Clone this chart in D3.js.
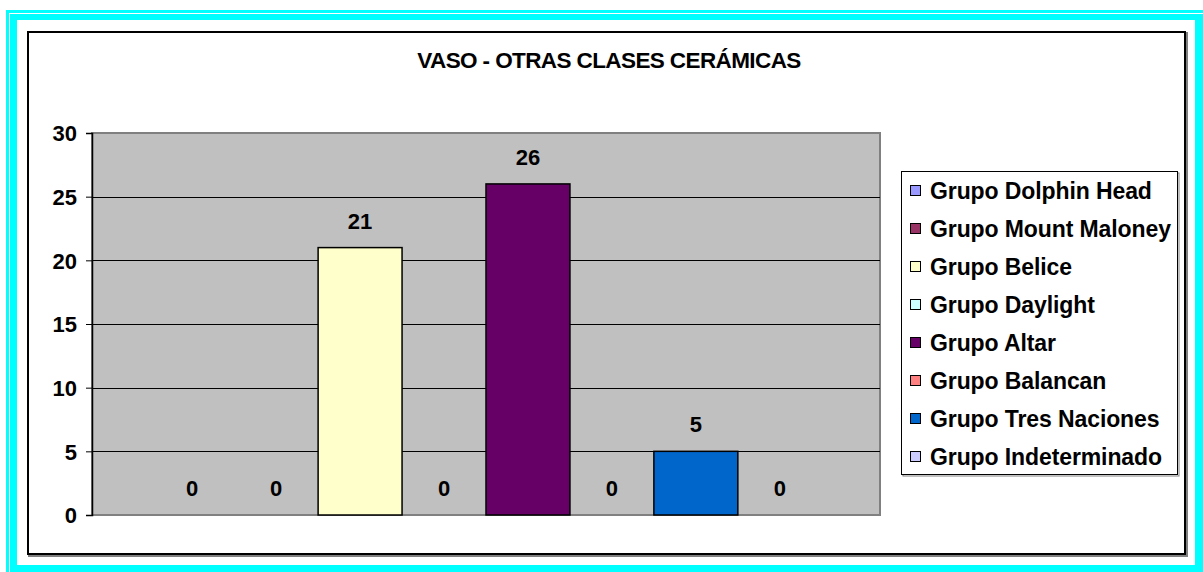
<!DOCTYPE html>
<html>
<head>
<meta charset="utf-8">
<script src="https://cdn.jsdelivr.net/npm/d3@7"></script>
<style>
  body { margin: 0; background: #fff; }
  text { font-family: "Liberation Sans", Arial, sans-serif; font-weight: bold; fill: #000; }
</style>
</head>
<body>
<svg id="chart"></svg>
<script>
// data
const title = "VASO - OTRAS CLASES CERÁMICAS";
const category = ["Vaso"];
const series = ["Grupo Dolphin Head", "Grupo Mount Maloney", "Grupo Belice", "Grupo Daylight",
                "Grupo Altar", "Grupo Balancan", "Grupo Tres Naciones", "Grupo Indeterminado"];
const values = [0, 0, 21, 0, 26, 0, 5, 0];
const colors = ["#9999FF", "#993366", "#FFFFCC", "#CCFFFF", "#660066", "#FF8080", "#0066CC", "#CCCCFF"];
const yTicks = [0, 5, 10, 15, 20, 25, 30];

const W = 1203, H = 572;
const plot = {left: 92, right: 880, top: 133, bottom: 515};

const svg = d3.select("#chart").attr("width", W).attr("height", H);

// cyan frame
svg.append("rect").attr("x", 6).attr("y", 10).attr("width", 1220).attr("height", 600).attr("fill", "#00FFFF");
svg.append("rect").attr("x", 9.5).attr("y", 13.5).attr("width", 1220).attr("height", 600)
    .attr("fill", "none").attr("stroke", "#fff").attr("stroke-width", 1);
svg.append("rect").attr("x", 17).attr("y", 20).attr("width", 1178).attr("height", 545).attr("fill", "#fff");

// chart area box with shadow
svg.append("rect").attr("x", 29).attr("y", 33).attr("width", 1158).attr("height", 523)
    .attr("fill", "none").attr("stroke", "#808080").attr("stroke-width", 2);
svg.append("rect").attr("x", 28).attr("y", 32).attr("width", 1157).attr("height", 522)
    .attr("fill", "#fff").attr("stroke", "#000").attr("stroke-width", 2);

svg.append("text")
    .attr("x", 609).attr("y", 68)
    .attr("text-anchor", "middle")
    .attr("font-size", "22.5px")
    .attr("letter-spacing", "-0.6px")
    .text(title);

// scales
const yscale = d3.scaleLinear().domain([0, 30]).range([plot.bottom, plot.top]);
const x0 = d3.scaleBand().domain(category).range([plot.left, plot.right]).paddingOuter(0.0867);
const x1 = d3.scaleBand().domain(series).range([0, x0.bandwidth()]);

// plot area
svg.append("rect")
    .attr("x", plot.left).attr("y", plot.top)
    .attr("width", plot.right - plot.left).attr("height", plot.bottom - plot.top)
    .attr("fill", "#C0C0C0").attr("stroke", "#808080").attr("stroke-width", 2);

// gridlines
svg.append("g").selectAll("line")
    .data(yTicks.filter(d => d > 0 && d < 30))
    .join("line")
    .attr("x1", plot.left).attr("x2", plot.right)
    .attr("y1", d => Math.round(yscale(d)) + 0.5).attr("y2", d => Math.round(yscale(d)) + 0.5)
    .attr("stroke", "#000").attr("stroke-width", 1);

// bars
const g = svg.append("g").attr("transform", `translate(${x0(category[0])},0)`);
g.selectAll("rect")
    .data(values)
    .join("rect")
    .attr("x", (d, i) => x1(series[i]))
    .attr("y", d => yscale(d))
    .attr("width", x1.bandwidth())
    .attr("height", d => yscale(0) - yscale(d))
    .attr("fill", (d, i) => colors[i])
    .attr("stroke", "#000").attr("stroke-width", 1.5)
    .attr("display", d => d > 0 ? null : "none");

g.selectAll("text")
    .data(values)
    .join("text")
    .attr("x", (d, i) => x1(series[i]) + x1.bandwidth() / 2)
    .attr("y", d => yscale(d) - 19)
    .attr("text-anchor", "middle")
    .attr("font-size", "22px")
    .text(d => d);

// y axis
const yaxis = d3.axisLeft(yscale).tickValues(yTicks).tickSize(6).tickPadding(9);
const yg = svg.append("g").attr("transform", `translate(${plot.left},0)`).call(yaxis);
yg.select(".domain").attr("stroke", "#000").attr("stroke-width", 1.5);
yg.selectAll(".tick line").attr("stroke", "#000");
yg.selectAll(".tick text").attr("font-size", "22px").attr("font-family", null).attr("dy", "0.35em");

// legend
const lg = svg.append("g");
lg.append("rect").attr("x", 903).attr("y", 173).attr("width", 276).attr("height", 303)
    .attr("fill", "none").attr("stroke", "#808080").attr("stroke-width", 1);
lg.append("rect").attr("x", 901.5).attr("y", 171.5).attr("width", 276).attr("height", 303)
    .attr("fill", "#fff").attr("stroke", "#000").attr("stroke-width", 1);

const ly = d3.scalePoint().domain(series).range([191, 457]);
const item = lg.selectAll("g.item")
    .data(series)
    .join("g").attr("class", "item")
    .attr("transform", d => `translate(0,${ly(d)})`);
item.append("rect")
    .attr("x", 910.5).attr("y", -5.5).attr("width", 10).attr("height", 10)
    .attr("fill", (d, i) => colors[i]).attr("stroke", "#000").attr("stroke-width", 1);
item.append("text")
    .attr("x", 930).attr("y", 0).attr("dy", "0.35em")
    .attr("font-size", "23px")
    .attr("letter-spacing", "-0.1px")
    .text(d => d);
</script>
</body>
</html>
